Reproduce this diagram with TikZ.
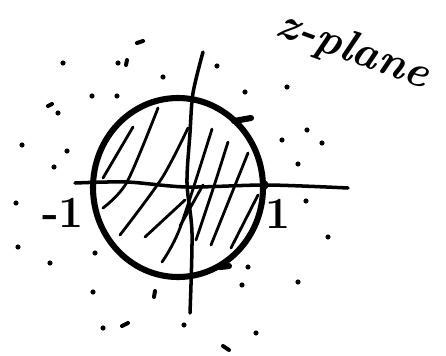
\documentclass[tikz,border=0pt]{standalone}
\usepackage{tikz}
\usetikzlibrary{positioning}
\definecolor{ink}{HTML}{000000}

\begin{document}
\begin{tikzpicture}[x=0.03cm, y=-0.03cm, line cap=round, line join=round,
    rim/.style={ink, line width=5.2pt},
    axisline/.style={ink, line width=3.0pt},
    hatch/.style={ink, line width=2.4pt},
    fleck/.style={ink, line width=3.4pt},
    handtext/.style={ink, inner sep=0pt}]
  \useasboundingbox (0,0) rectangle (446,355);
  % hatching inside the unit disc
  \draw[hatch] (103,178) -- (133,127);
  \draw[hatch] plot[smooth] coordinates {(103,208)(127,182)(158,108)};
  \draw[hatch] plot[smooth] coordinates {(120,235)(162,178)(188,128)};
  \draw[hatch] (145,237) -- (185,200);
  \draw[hatch] plot[smooth] coordinates {(162,262)(180,228)(212,129)};
  \draw[hatch] (203,185) -- (180,226);
  \draw[hatch] plot[smooth] coordinates {(228,142)(214,186)(196,240)};
  \draw[hatch] (248,153) -- (211,245);
  \draw[hatch] (258,195) -- (231,248);
  % axes
  \draw[axisline] plot[smooth] coordinates {(75,183)(127,182)(187,187)(267,185)(348,188)};
  \draw[axisline] plot[smooth] coordinates {(203,52)(193,93)(190,133)(187,183)(192,233)(190,313)};
  % unit circle
  \draw[rim] (178,187.5) ellipse[x radius=85, y radius=89.5];
  \draw[rim] (234,121) -- (251,118);
  \draw[rim] (220,267) -- (229,266);
  \fill[ink] (264,185) circle[radius=4pt];
  % dots outside
  \foreach \px/\py in {63/63, 118/63, 163/77, 217/66, 92/96, 117/96, 245/92, 287/87,
      58/113, 307/130, 282/140, 322/143, 22/145, 67/151, 54/167, 298/164,
      16/203, 306/201, 328/237, 18/247, 50/263, 95/253, 248/267, 242/285,
      298/282, 93/292, 103/328, 184/325, 256/333}
    \fill[ink] (\px,\py) circle[radius=2.2pt];
  \draw[fleck] (137,43) -- (143,41);
  \draw[fleck] (127,60) -- (126,65);
  \draw[fleck] (48,106) -- (52,104);
  \draw[fleck] (155,291) -- (154,297);
  \draw[fleck] (122,326) -- (128,323);
  \draw[fleck] (223,346) -- (229,350);
  % labels
  \node[handtext, font=\fontsize{38}{38}\selectfont\bfseries] (mone) at (63,213) {-1};
  \node[handtext, font=\fontsize{38}{38}\selectfont\bfseries] (one) at (278,214) {1};
  \node[handtext, font=\fontsize{38}{38}\selectfont\bfseries\itshape, rotate=-20] (zplane) at (353,51) {z-plane};
\end{tikzpicture}
\end{document}
